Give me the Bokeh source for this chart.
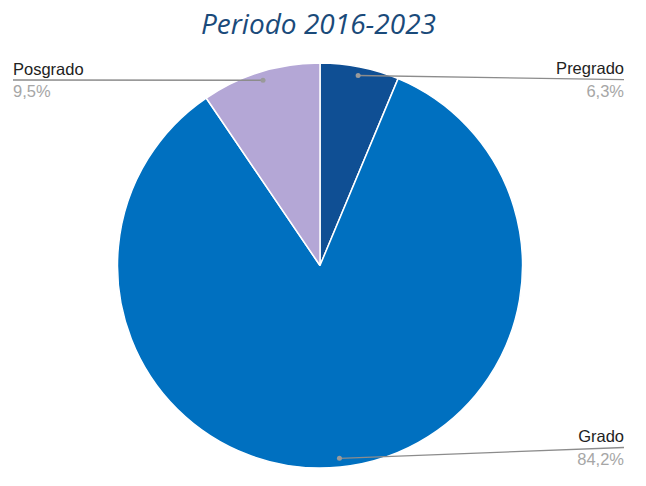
import numpy as np
from bokeh.plotting import figure
from bokeh.models import ColumnDataSource
from bokeh.core.properties import value
from bokeh.embed import file_html
from bokeh.resources import INLINE

# Data
categories = ["Pregrado", "Grado", "Posgrado"]
percentages = [6.3, 84.2, 9.5]
pct_labels = ["6,3%", "84,2%", "9,5%"]
colors = ["#0F4F94", "#0070C0", "#B4A7D6"]
title_text = "Periodo 2016-2023"

W, H = 630, 470
p = figure(width=W, height=H, x_range=(0, W), y_range=(0, H),
           output_backend="svg", toolbar_location=None, min_border=0)
p.axis.visible = False
p.grid.visible = False
p.outline_line_color = None
p.background_fill_color = "white"

cx, cy, R = 319.5, 205.0, 202.5
vals = np.array(percentages) / 100.0
# clockwise from top
ends = np.pi / 2 - 2 * np.pi * np.cumsum(vals)
starts = np.concatenate([[np.pi / 2], ends[:-1]])
src = ColumnDataSource(dict(start=ends, end=starts, color=colors, cat=categories))
p.wedge(x=cx, y=cy, radius=R, start_angle="start", end_angle="end",
        fill_color="color", line_color="white", line_width=1.5, source=src)

# leader lines and labels
mids = (starts + ends) / 2
dot_r = 0.957 * R
dx = cx + dot_r * np.cos(mids)
dy = cy + dot_r * np.sin(mids)
line_end_x = [623.5, 623.5, 12.5]
line_end_y = [390.8, 23.0, 390.5]
for i in range(3):
    ex = line_end_x[i]
    ey = line_end_y[i]
    p.line([dx[i], ex], [dy[i], ey], line_color="#8C8C8C", line_width=1.3)
    p.scatter([dx[i]], [dy[i]], size=5, fill_color="#9A9A9A", line_color=None)
    align = "right" if ex > cx else "left"
    p.text([ex], [ey + 2.5], text=[categories[i]], text_align=align,
           text_baseline="bottom", text_font=value("Liberation Sans"),
           text_font_size="16.5px", text_color="#222222")
    p.text([ex], [ey - 2], text=[pct_labels[i]], text_align=align,
           text_baseline="top", text_font=value("Liberation Sans"),
           text_font_size="16.5px", text_color="#A6A6A6")

p.text([318], [448], text=[title_text], text_align="center", text_baseline="middle",
       text_font=value("Open Sans"), text_font_style="italic",
       text_font_size="28px", text_color="#1A4A7A")

open("out.html", "w").write(file_html(p, INLINE))
